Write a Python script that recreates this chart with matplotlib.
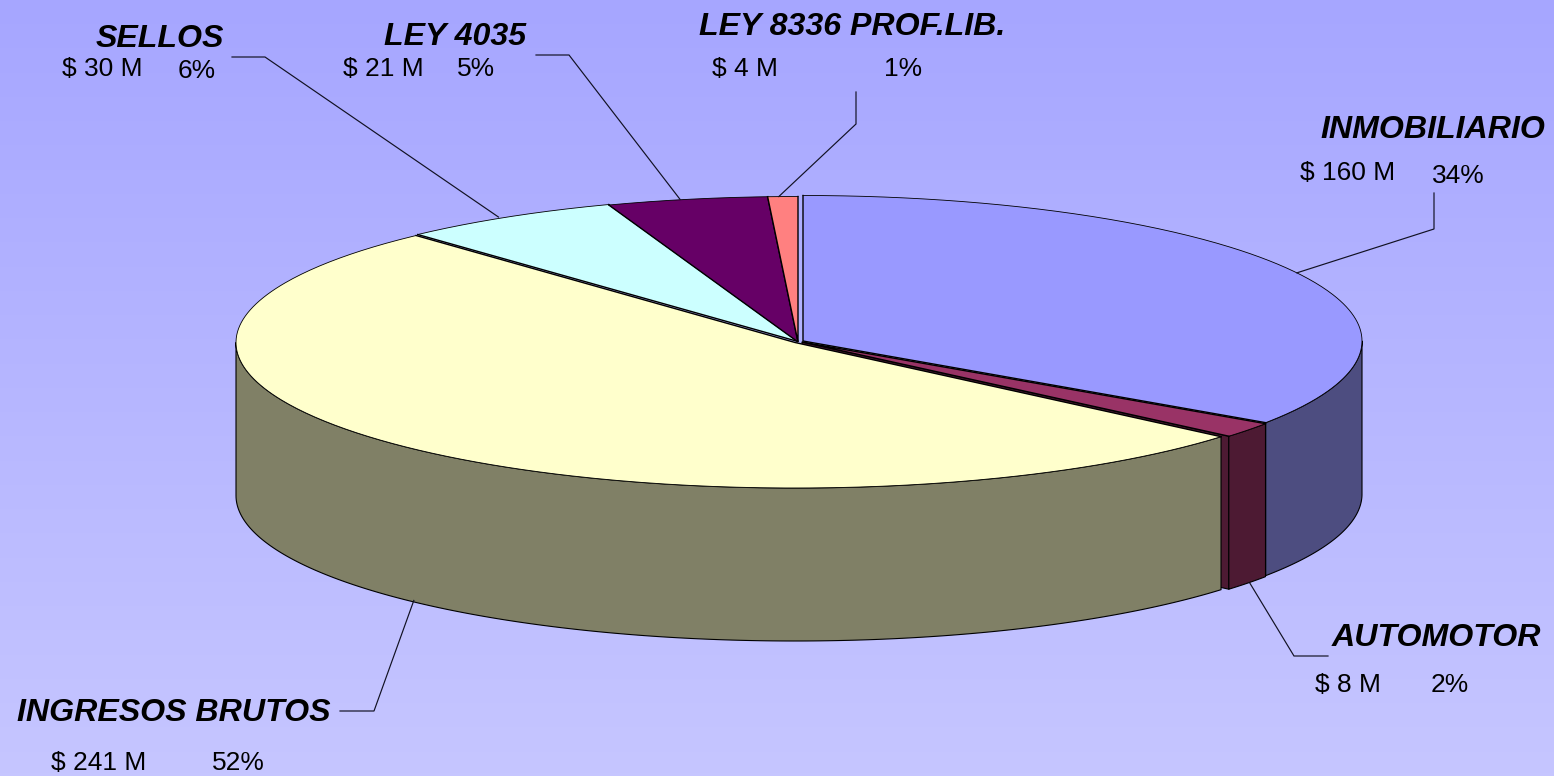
import numpy as np
import matplotlib
matplotlib.use("Agg")
import matplotlib.pyplot as plt
from matplotlib.patches import Polygon
from matplotlib.colors import LinearSegmentedColormap

# ---- data ----
categories = ["INMOBILIARIO", "AUTOMOTOR", "INGRESOS BRUTOS", "SELLOS", "LEY 4035", "LEY 8336 PROF.LIB."]
values = [160, 8, 241, 29.6, 21.4, 4]
value_labels = ["$ 160 M", "$ 8 M", "$ 241 M", "$ 30 M", "$ 21 M", "$ 4 M"]
pct_labels = ["34%", "2%", "52%", "6%", "5%", "1%"]

# ---- styles ----
top_colors = ["#9999FF", "#993366", "#FFFFCC", "#CCFFFF", "#660066", "#FF8080"]
wall_colors = ["#4D4D80", "#4D1A33", "#808066", "#668080", "#330033", "#804040"]

# ---- layout (pixels of the 1554x776 canvas) ----
W, H = 1554, 776
RY, DEPTH = 145.5, 153
slice_cx = [803, 802, 795, 798, 798, 798]
slice_rx = [559, 560, 559, 561, 561, 561]
slice_cy = [341, 342, 342.5, 341.5, 342, 342]
name_pos = [(1320, 138), (1332, 646), (17, 721), (96, 47), (384, 45), (699, 35)]
val_pos = [(1300, 180), (1315, 692), (51, 770), (62, 76), (343, 76), (712, 76)]
pct_pos = [(1432, 183), (1431, 692), (212, 770), (178, 78), (457, 76), (884, 76)]
elbows = [
    [(1434, 229), (1434, 193)],
    [(1294, 656), (1328, 656)],
    [(374, 711), (340, 711)],
    [(265, 57), (232, 57)],
    [(569, 55), (536, 55)],
    [(856, 124), (856, 92)],
]
anchor_depth = [0, DEPTH, DEPTH, 0, 0, 0]
anchor_dx = [0, 2, 6, -9, -7, -4]

plt.rcParams["font.family"] = ["Liberation Sans", "DejaVu Sans"]
fig = plt.figure(figsize=(W / 100, H / 100), dpi=100)
ax = fig.add_axes([0, 0, 1, 1])
ax.set_xlim(0, W)
ax.set_ylim(H, 0)
ax.axis("off")

cmap = LinearSegmentedColormap.from_list("bg", ["#A6A6FF", "#C6C6FF"])
ax.imshow(np.linspace(0, 1, 256).reshape(-1, 1), extent=(0, W, H, 0), cmap=cmap,
          aspect="auto", zorder=0)
ax.set_xlim(0, W)
ax.set_ylim(H, 0)

EDGE = "#000000"
LW = 0.8


def pts(i, t):
    t = np.asarray(t, dtype=float)
    return np.column_stack([slice_cx[i] + slice_rx[i] * np.sin(t),
                            slice_cy[i] - RY * np.cos(t)])


cum = np.cumsum([0] + values) / sum(values) * 2 * np.pi
starts, ends = cum[:-1], cum[1:]
z = 2


def add(poly, color, lw=LW, edge=EDGE):
    global z
    ax.add_patch(Polygon(poly, closed=True, facecolor=color, edgecolor=edge,
                         linewidth=lw, joinstyle="round", zorder=z))
    z += 1


# cut face of the AUTOMOTOR slice, seen through the gap next to INGRESOS BRUTOS
i = 1
outer = pts(i, [ends[i]])[0]
apex = np.array([slice_cx[i], slice_cy[i]], dtype=float)
add([outer, apex, apex + [0, DEPTH], outer + [0, DEPTH]], wall_colors[i])

# outer walls: only the front half of the pie is visible
for i in range(len(values)):
    a, b = max(starts[i], np.pi / 2), min(ends[i], 3 * np.pi / 2)
    if a >= b:
        continue
    arc = pts(i, np.linspace(a, b, 200))
    add(np.vstack([arc, (arc + [0, DEPTH])[::-1]]), wall_colors[i])

# top faces: thin rim, heavier radial edges
for i in [2, 3, 4, 5, 1, 0]:
    arc = pts(i, np.linspace(starts[i], ends[i], 300))
    apex = [slice_cx[i], slice_cy[i]]
    add(np.vstack([apex, arc]), top_colors[i], lw=0, edge="none")
    ax.plot(arc[:, 0], arc[:, 1], color=EDGE, lw=0.6, zorder=z)
    ax.plot([arc[0, 0], apex[0], arc[-1, 0]], [arc[0, 1], apex[1], arc[-1, 1]],
            color=EDGE, lw=1.0, zorder=z, solid_joinstyle="miter")
    z += 1

# leader lines, labels
for i in range(len(values)):
    mid = (starts[i] + ends[i]) / 2
    p = pts(i, [mid])[0] + [anchor_dx[i], anchor_depth[i]]
    xs = [p[0]] + [e[0] for e in elbows[i]]
    ys = [p[1]] + [e[1] for e in elbows[i]]
    ax.plot(xs, ys, color="#111122", lw=0.85, zorder=30, solid_joinstyle="miter")
    ax.text(*name_pos[i], categories[i], fontsize=23.1, fontweight="bold", fontstyle="italic",
            ha="left", va="baseline", color="black", zorder=31)
    ax.text(*val_pos[i], value_labels[i], fontsize=19, ha="left", va="baseline",
            color="black", zorder=31)
    ax.text(*pct_pos[i], pct_labels[i], fontsize=19, ha="left", va="baseline",
            color="black", zorder=31)

fig.savefig("out.png", dpi=100)
